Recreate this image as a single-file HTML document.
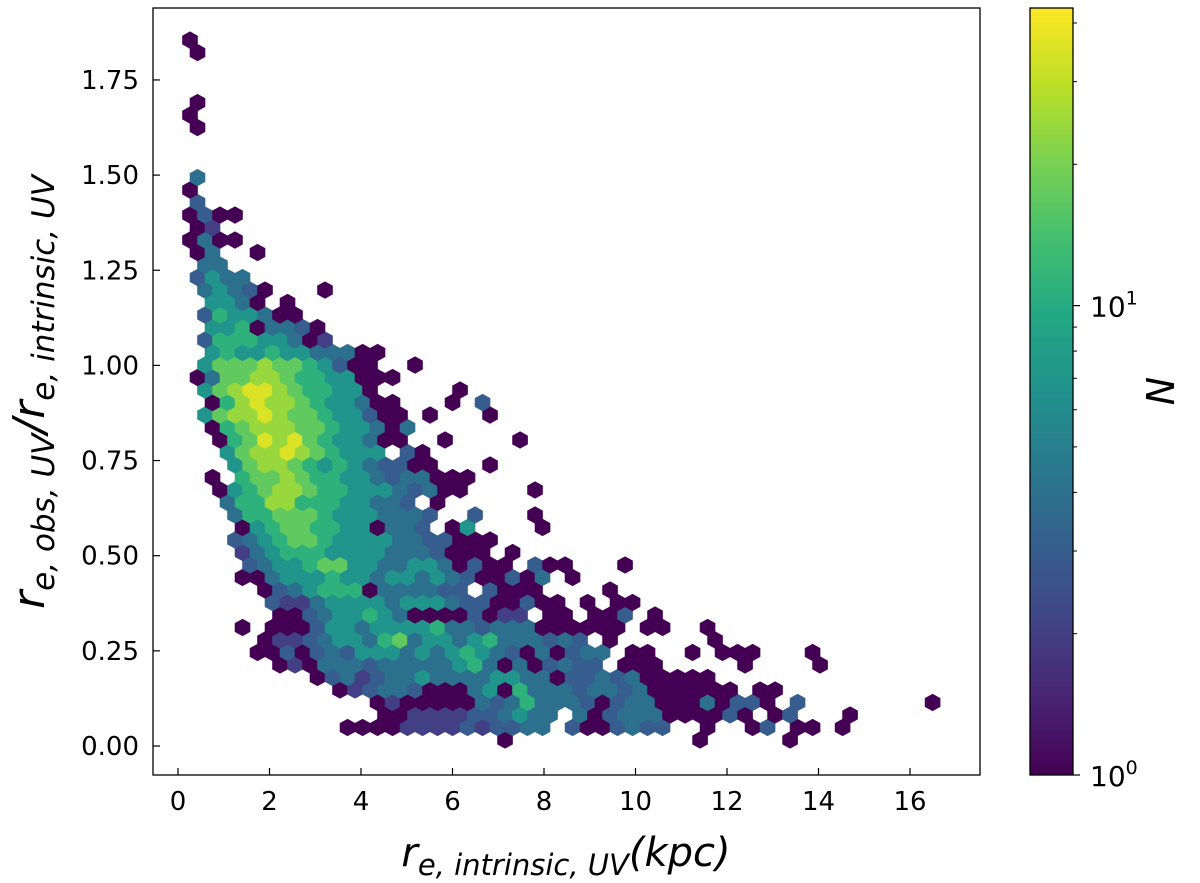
<!DOCTYPE html>
<html><head><meta charset="utf-8"><style>
html,body{margin:0;padding:0;background:#fff;}
svg{display:block;font-family:"DejaVu Sans","Liberation Sans",sans-serif;}
</style></head><body>
<svg id="chart" width="1200" height="883" viewBox="0 0 1200 883" xmlns="http://www.w3.org/2000/svg">
<defs>
<linearGradient id="vir" x1="0" y1="1" x2="0" y2="0">
<stop offset="0" stop-color="#440154"/><stop offset="0.1" stop-color="#482475"/><stop offset="0.2" stop-color="#414487"/><stop offset="0.3" stop-color="#355f8d"/><stop offset="0.4" stop-color="#2a788e"/><stop offset="0.5" stop-color="#21918c"/><stop offset="0.6" stop-color="#22a884"/><stop offset="0.7" stop-color="#44bf70"/><stop offset="0.8" stop-color="#7ad151"/><stop offset="0.9" stop-color="#bddf26"/><stop offset="1" stop-color="#fde725"/>
</linearGradient>
<clipPath id="plotclip"><rect x="153" y="8" width="827" height="767"/></clipPath>
</defs>
<g id="hexes" clip-path="url(#plotclip)"></g>
<rect x="153" y="8" width="827" height="767" fill="none" stroke="#000" stroke-width="1.3"/>
<g id="xticks"></g>
<g id="yticks"></g>
<text x="566" y="866" text-anchor="middle" font-size="40" font-style="italic">r<tspan font-size="29" dy="9">e, intrinsic, UV</tspan><tspan dy="-9">(kpc)</tspan></text>
<text transform="translate(44,392) rotate(-90)" text-anchor="middle" font-size="44" font-style="italic">r<tspan font-size="31" dy="10">e, obs, UV</tspan><tspan dy="-10">/r</tspan><tspan font-size="31" dy="10">e, intrinsic, UV</tspan></text>
<rect x="1030" y="8" width="43" height="767" fill="url(#vir)" stroke="#000" stroke-width="1.3"/>
<g id="cbticks"></g>
<text transform="translate(1174,391) rotate(-90)" text-anchor="middle" font-size="38" font-style="italic">N</text>
</svg>
<script>
// hexbin data: one string per lattice row (bottom row first); '.' empty, digits = count level
const rowLevels = [
".....................1............1.....1",
"..........11112222323344.3113433..1..13.11.1",
".............112222334544.413444111131.13...1",
"............121111143464443134411141331.3........1",
"..........123443111451644434434111111.11",
"........134234454444554413343411111",
"......1214443444445641413433.111.....1....1",
"....113134355545456543141344.11..1.111...1",
".....1223455467455456444343.1......1",
"...1.111355455556443444111111.11..1",
"......11345565411113122.11.113.1",
".....32245555455543311311.1.11",
".....13456661444433.3111....1",
"...114555655455454311314.1",
"....345567755445541311.311...1",
"...24566655554443111.1",
"...345677655554433111",
"...1567766551443.15....1",
"...46677765554443..3...1",
"..4668866655443.1",
"..15678876655543411....1",
".1.6778766554344111",
"...57887656543311...1",
"..57889876555.31",
"..1679897655411..1....1",
".16788877655414",
".57889877655311.1...1",
".1689887655411...1.3",
".578998766551.....1",
"14778876655111",
".577787765311..1",
".565565544411",
".366655412",
".55614431",
".3655411",
".5541.1",
".45431...1",
"3544",
".44",
"14..1",
"1411",
"12",
"1311",
"3",
"1",
"4",
"", "", "",
"1",
"1",
"1",
"", "", "",
"1",
"1"
];
const levelCounts = [0, 1, 2, 3, 4, 7, 11, 17, 24, 35];
const xTickValues = [0, 2, 4, 6, 8, 10, 12, 14, 16];
const yTickValues = [0, 0.25, 0.5, 0.75, 1.0, 1.25, 1.5, 1.75];
const yTickLabels = ["0.00", "0.25", "0.50", "0.75", "1.00", "1.25", "1.50", "1.75"];
const cbMajor = [1, 10];
const cbMajorLabels = ["0", "1"];
const cbMinor = [2, 3, 4, 5, 6, 7, 8, 9, 20, 30, 40];
const gridX0 = 0.2623, gridDX = 0.3279, gridY0 = 0.0158, gridDY = 0.03284;
const cMax = 43;

const NS = "http://www.w3.org/2000/svg";
function xs(v){ return 178 + v * 45.75; }
function ys(v){ return 746 - v * 380.6; }
function cbY(c){ return 775 - Math.log10(c) * 469.4; }
const vir = ["#440154","#482475","#414487","#355f8d","#2a788e","#21918c","#22a884","#44bf70","#7ad151","#bddf26","#fde725"];
function hex2rgb(h){ return [parseInt(h.substr(1,2),16),parseInt(h.substr(3,2),16),parseInt(h.substr(5,2),16)]; }
function viridis(t){
  t = Math.max(0, Math.min(1, t));
  const p = t * 10, i = Math.min(9, Math.floor(p)), f = p - i;
  const a = hex2rgb(vir[i]), b = hex2rgb(vir[i+1]);
  return "rgb(" + a.map((v,k)=>Math.round(v + (b[k]-v)*f)).join(",") + ")";
}
function mk(tag, attrs, parent){
  const e = document.createElementNS(NS, tag);
  for (const k in attrs) e.setAttribute(k, attrs[k]);
  parent.appendChild(e);
  return e;
}
const hg = document.getElementById("hexes");
const hw = 7.5, hh = 8.33, hq = 4.17;
rowLevels.forEach((row, j) => {
  for (let i = 0; i < row.length; i++) {
    const ch = row[i];
    if (ch === ".") continue;
    const n = levelCounts[parseInt(ch, 10)];
    const dx = gridX0 + (i + (j % 2) * 0.5) * gridDX;
    const dy = gridY0 + j * gridDY;
    const cx = xs(dx), cy = ys(dy);
    const col = viridis(Math.log(n) / Math.log(cMax));
    const pts = [[0,-hh],[hw,-hq],[hw,hq],[0,hh],[-hw,hq],[-hw,-hq]].map(p => (cx+p[0]).toFixed(2)+","+(cy+p[1]).toFixed(2)).join(" ");
    const poly = mk("polygon", {points: pts, fill: col, stroke: col, "stroke-width": "0.6"}, hg);
    
    
  }
});
const xg = document.getElementById("xticks");
xTickValues.forEach(v => {
  const x = xs(v);
  const t = mk("line", {x1: x, x2: x, y1: 775, y2: 768, stroke: "#000", "stroke-width": "1.2"}, xg);
  
  
  const l = mk("text", {x: x, y: 810, "text-anchor": "middle", "font-size": "26"}, xg);
  l.textContent = String(v);
  
  
});
const yg = document.getElementById("yticks");
yTickValues.forEach((v, k) => {
  const y = ys(v);
  const t = mk("line", {x1: 153, x2: 160, y1: y, y2: y, stroke: "#000", "stroke-width": "1.2"}, yg);
  
  
  const l = mk("text", {x: 139, y: y + 9, "text-anchor": "end", "font-size": "26"}, yg);
  l.textContent = yTickLabels[k];
  
  
});
const cg = document.getElementById("cbticks");
cbMajor.forEach((c, k) => {
  const y = cbY(c);
  const t = mk("line", {x1: 1073, x2: 1080, y1: y, y2: y, stroke: "#000", "stroke-width": "1.2"}, cg);
  
  
  const l = mk("text", {x: 1090, y: y + 11, "font-size": "28"}, cg);
  l.textContent = "10";
  const s = mk("tspan", {dy: "-12", "font-size": "19"}, l);
  s.textContent = cbMajorLabels[k];
  
  
});
cbMinor.forEach(c => {
  const y = cbY(c);
  const t = mk("line", {x1: 1073, x2: 1077, y1: y, y2: y, stroke: "#000", "stroke-width": "1"}, cg);
  
  
});
</script>
</body></html>
